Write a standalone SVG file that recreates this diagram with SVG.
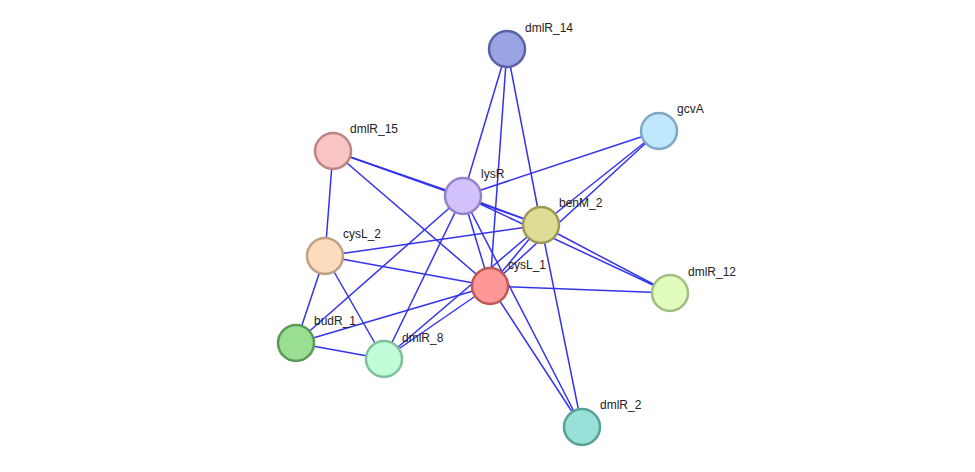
<svg xmlns="http://www.w3.org/2000/svg" width="975" height="472" viewBox="0 0 975 472">
<style>
.e{stroke:#3333ee;stroke-width:1.5;fill:none}
.n circle{stroke-width:2.5}
text{font-family:"Liberation Sans",Arial,sans-serif;font-size:12px;fill:#222}
</style>
<rect width="975" height="472" fill="#fff"/>
<g id="connectors">
<line class="e" x1="507" y1="49" x2="463" y2="196"/>
<line class="e" x1="507" y1="49" x2="490" y2="286"/>
<line class="e" x1="507" y1="49" x2="541" y2="225"/>
<line class="e" x1="659" y1="131" x2="463" y2="196"/>
<line class="e" x1="659" y1="131" x2="541" y2="225"/>
<line class="e" x1="659" y1="131" x2="490" y2="286"/>
<line class="e" x1="333" y1="151" x2="463" y2="196"/>
<line class="e" x1="333" y1="151" x2="541" y2="225"/>
<line class="e" x1="333" y1="151" x2="490" y2="286"/>
<line class="e" x1="333" y1="151" x2="325" y2="256"/>
<line class="e" x1="463" y1="196" x2="541" y2="225"/>
<line class="e" x1="463" y1="196" x2="490" y2="286"/>
<line class="e" x1="463" y1="196" x2="670" y2="293"/>
<line class="e" x1="463" y1="196" x2="582" y2="427"/>
<line class="e" x1="463" y1="196" x2="384" y2="359"/>
<line class="e" x1="463" y1="196" x2="296" y2="343"/>
<line class="e" x1="541" y1="225" x2="325" y2="256"/>
<line class="e" x1="541" y1="225" x2="490" y2="286"/>
<line class="e" x1="541" y1="225" x2="670" y2="293"/>
<line class="e" x1="541" y1="225" x2="582" y2="427"/>
<line class="e" x1="541" y1="225" x2="384" y2="359"/>
<line class="e" x1="490" y1="286" x2="325" y2="256"/>
<line class="e" x1="490" y1="286" x2="296" y2="343"/>
<line class="e" x1="490" y1="286" x2="384" y2="359"/>
<line class="e" x1="490" y1="286" x2="670" y2="293"/>
<line class="e" x1="490" y1="286" x2="582" y2="427"/>
<line class="e" x1="325" y1="256" x2="296" y2="343"/>
<line class="e" x1="325" y1="256" x2="384" y2="359"/>
<line class="e" x1="296" y1="343" x2="384" y2="359"/>
</g>
<g id="dmlR_14" class="n"><circle cx="507" cy="49" r="18" fill="#9aa4e2" stroke="#5a63a6"/><text x="525" y="32">dmlR_14</text></g>
<g id="gcvA" class="n"><circle cx="659" cy="131" r="18" fill="#c0e8fd" stroke="#80a8c6"/><text x="677" y="113">gcvA</text></g>
<g id="dmlR_15" class="n"><circle cx="333" cy="151" r="18" fill="#f8c4c4" stroke="#bf8585"/><text x="350" y="133">dmlR_15</text></g>
<g id="lysR" class="n"><circle cx="463" cy="196" r="18" fill="#d2c2fb" stroke="#9683c7"/><text x="481" y="178">lysR</text></g>
<g id="benM_2" class="n"><circle cx="541" cy="225" r="18" fill="#dedd96" stroke="#9c9a56"/><text x="559" y="207">benM_2</text></g>
<g id="cysL_2" class="n"><circle cx="325" cy="256" r="18" fill="#fddcbd" stroke="#c0a080"/><text x="343" y="238">cysL_2</text></g>
<g id="cysL_1" class="n"><circle cx="490" cy="286" r="18" fill="#fe9898" stroke="#c05858"/><text x="508" y="269">cysL_1</text></g>
<g id="dmlR_12" class="n"><circle cx="670" cy="293" r="18" fill="#e2fcbe" stroke="#a0c080"/><text x="688" y="276">dmlR_12</text></g>
<g id="budR_1" class="n"><circle cx="296" cy="343" r="18" fill="#9ade94" stroke="#5a9a56"/><text x="314" y="325">budR_1</text></g>
<g id="dmlR_8" class="n"><circle cx="384" cy="359" r="18" fill="#c0fcd8" stroke="#80c09c"/><text x="402" y="342">dmlR_8</text></g>
<g id="dmlR_2" class="n"><circle cx="582" cy="427" r="18" fill="#98e0d8" stroke="#58a098"/><text x="600" y="409">dmlR_2</text></g>
</svg>
